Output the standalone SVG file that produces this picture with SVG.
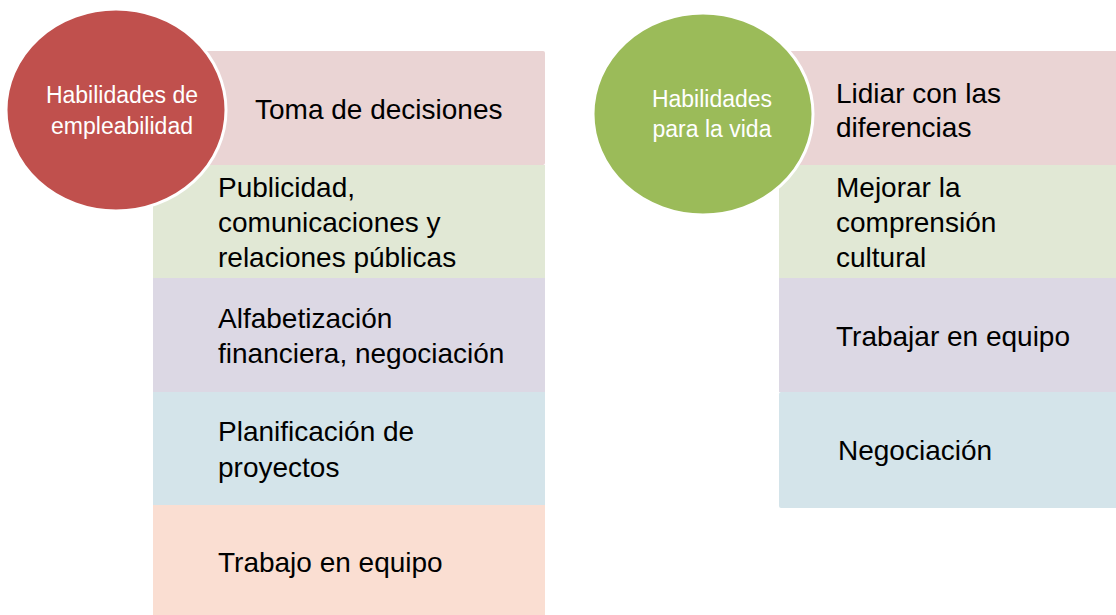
<svg xmlns="http://www.w3.org/2000/svg" width="1116" height="615" viewBox="0 0 1116 615">
<style>
.t{font-family:"Liberation Sans",Arial,sans-serif;font-size:28px;fill:#000}
.c{font-family:"Liberation Sans",Arial,sans-serif;font-size:23px;fill:#fff;text-anchor:middle}
.pink{fill:#EAD4D4}.green{fill:#E1E8D5}.purple{fill:#DCD8E4}.blue{fill:#D4E4EA}.peach{fill:#FADED2}
.circ{stroke:#fff;stroke-width:3}
</style>
<rect width="1116" height="615" fill="#fff"/>
<g id="left-list">
<g id="l1"><rect class="pink" x="153" y="51" width="392" height="114" rx="2"/><text class="t" x="255" y="119">Toma de decisiones</text></g>
<g id="l2"><rect class="green" x="153" y="165" width="392" height="113"/><text class="t"><tspan x="218" y="197">Publicidad,</tspan><tspan x="218" y="232">comunicaciones y</tspan><tspan x="218" y="267">relaciones públicas</tspan></text></g>
<g id="l3"><rect class="purple" x="153" y="278" width="392" height="114"/><text class="t"><tspan x="218" y="328">Alfabetización</tspan><tspan x="218" y="363">financiera, negociación</tspan></text></g>
<g id="l4"><rect class="blue" x="153" y="392" width="392" height="113"/><text class="t"><tspan x="218" y="441">Planificación de</tspan><tspan x="218" y="477">proyectos</tspan></text></g>
<g id="l5"><rect class="peach" x="153" y="505" width="392" height="112"/><text class="t" x="218" y="572">Trabajo en equipo</text></g>
</g>
<g id="right-list">
<g id="r1"><rect class="pink" x="779" y="51" width="340" height="114" rx="2"/><text class="t"><tspan x="836" y="103">Lidiar con las</tspan><tspan x="836" y="137">diferencias</tspan></text></g>
<g id="r2"><rect class="green" x="779" y="165" width="340" height="113"/><text class="t"><tspan x="836" y="197">Mejorar la</tspan><tspan x="836" y="232">comprensión</tspan><tspan x="836" y="267">cultural</tspan></text></g>
<g id="r3"><rect class="purple" x="779" y="278" width="340" height="114"/><text class="t" x="836" y="346">Trabajar en equipo</text></g>
<g id="r4"><rect class="blue" x="779" y="392" width="340" height="116" rx="2"/><text class="t" x="838" y="460">Negociación</text></g>
</g>
<g id="circle-left"><ellipse class="circ" cx="116" cy="110" rx="110" ry="101" fill="#C0504D"/><text class="c"><tspan x="122" y="103">Habilidades de</tspan><tspan x="122" y="134">empleabilidad</tspan></text></g>
<g id="circle-right"><ellipse class="circ" cx="703" cy="114" rx="110" ry="101" fill="#9BBB59"/><text class="c"><tspan x="712" y="107">Habilidades</tspan><tspan x="712" y="137">para la vida</tspan></text></g>
<g id="connectors"></g>
</svg>
